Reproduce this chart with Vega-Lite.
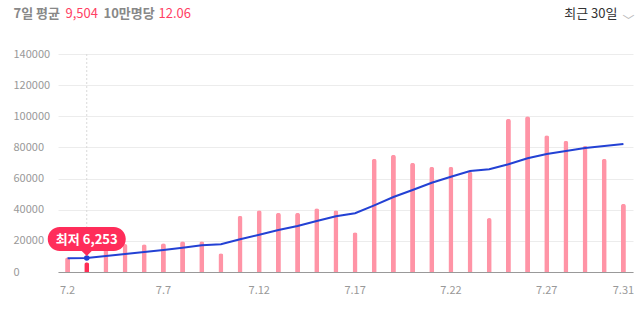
{
  "$schema": "https://vega.github.io/schema/vega-lite/v6.json",
  "width": 575,
  "height": 218,
  "autosize": "none",
  "padding": {"left": 58, "top": 54, "right": 10, "bottom": 43},
  "background": "white",
  "config": {"view": {"stroke": null}, "font": "Noto Sans CJK KR"},
  "datasets": {
    "days": [
      {"date": "7.2", "cases": 9400, "avg": 8800},
      {"date": "7.3", "cases": 6253, "avg": 8990, "note": "최저 6,253"},
      {"date": "7.4", "cases": 15000, "avg": 10280},
      {"date": "7.5", "cases": 17980, "avg": 11560},
      {"date": "7.6", "cases": 17790, "avg": 12840},
      {"date": "7.7", "cases": 18430, "avg": 14130},
      {"date": "7.8", "cases": 19710, "avg": 15610},
      {"date": "7.9", "cases": 19710, "avg": 17150},
      {"date": "7.10", "cases": 12010, "avg": 17790},
      {"date": "7.11", "cases": 36150, "avg": 21000},
      {"date": "7.12", "cases": 39620, "avg": 23950},
      {"date": "7.13", "cases": 38080, "avg": 26970},
      {"date": "7.14", "cases": 38080, "avg": 29540},
      {"date": "7.15", "cases": 40900, "avg": 32750},
      {"date": "7.16", "cases": 39620, "avg": 35770},
      {"date": "7.17", "cases": 25500, "avg": 37700},
      {"date": "7.18", "cases": 72760, "avg": 42830},
      {"date": "7.19", "cases": 75330, "avg": 48160},
      {"date": "7.20", "cases": 70190, "avg": 52660},
      {"date": "7.21", "cases": 67620, "avg": 57350},
      {"date": "7.22", "cases": 67620, "avg": 61200},
      {"date": "7.23", "cases": 64410, "avg": 64860},
      {"date": "7.24", "cases": 34680, "avg": 65950},
      {"date": "7.25", "cases": 98450, "avg": 69160},
      {"date": "7.26", "cases": 99990, "avg": 73010},
      {"date": "7.27", "cases": 87790, "avg": 75780},
      {"date": "7.28", "cases": 84320, "avg": 77710},
      {"date": "7.29", "cases": 81110, "avg": 79630},
      {"date": "7.30", "cases": 72760, "avg": 80920},
      {"date": "7.31", "cases": 43860, "avg": 82200}
    ]
  },
  "data": {"name": "days"},
  "resolve": {"axis": {"x": "independent", "y": "independent"}},
  "layer": [
    {
      "transform": [{"filter": "isValid(datum.note)"}],
      "mark": {"type": "rule", "color": "#d9d9d9", "strokeDash": [2, 2], "strokeWidth": 1},
      "encoding": {
        "x": {
          "field": "date", "type": "ordinal", "sort": null,
          "scale": {"domain": ["7.2","7.3","7.4","7.5","7.6","7.7","7.8","7.9","7.10","7.11","7.12","7.13","7.14","7.15","7.16","7.17","7.18","7.19","7.20","7.21","7.22","7.23","7.24","7.25","7.26","7.27","7.28","7.29","7.30","7.31"], "paddingInner": 0, "paddingOuter": 0},
          "axis": {"orient": "top", "labels": false, "ticks": false, "domain": false, "grid": false, "title": "최근 30일", "titleX": 559, "titleY": -37, "titleAlign": "right", "titleBaseline": "alphabetic", "titleAngle": 0, "titleColor": "#333333", "titleFontWeight": "normal", "titleFontSize": 13, "titleFont": "Noto Sans CJK KR"}
        }
      }
    },
    {
      "mark": {"type": "bar", "size": 5, "cornerRadiusTopLeft": 2.5, "cornerRadiusTopRight": 2.5},
      "encoding": {
        "x": {
          "field": "date", "type": "ordinal", "sort": null,
          "scale": {"domain": ["7.2","7.3","7.4","7.5","7.6","7.7","7.8","7.9","7.10","7.11","7.12","7.13","7.14","7.15","7.16","7.17","7.18","7.19","7.20","7.21","7.22","7.23","7.24","7.25","7.26","7.27","7.28","7.29","7.30","7.31"], "paddingInner": 0, "paddingOuter": 0},
          "axis": {"orient": "bottom", "values": ["7.2","7.7","7.12","7.17","7.22","7.27","7.31"], "labelAngle": 0, "ticks": false, "tickSize": 0, "grid": false, "domain": true, "domainColor": "#999999", "domainWidth": 1, "labelColor": "#999999", "labelFontSize": 11, "labelPadding": 12, "labelFont": "Noto Sans CJK KR", "title": null}
        },
        "y": {
          "field": "cases", "type": "quantitative",
          "scale": {"domain": [0, 140000], "nice": false},
          "axis": {"values": [0,20000,40000,60000,80000,100000,120000,140000], "format": "d", "labelAlign": "left", "labelPadding": 45, "ticks": false, "tickSize": 0, "domain": false, "grid": true, "gridColor": "#ececec", "labelColor": "#999999", "labelFontSize": 11, "labelFont": "Noto Sans CJK KR", "title": null}
        },
        "color": {"condition": {"test": "isValid(datum.note)", "value": "#ff2d55"}, "value": "#ff94a6"}
      }
    },
    {
      "mark": {"type": "line", "color": "#2341d4", "strokeWidth": 2},
      "encoding": {
        "x": {
          "field": "date", "type": "ordinal", "sort": null,
          "axis": {"orient": "top", "labels": false, "ticks": false, "domain": false, "grid": false, "title": "﹀", "titleX": 564, "titleY": -30, "titleAlign": "left", "titleBaseline": "alphabetic", "titleAngle": 0, "titleColor": "#bbbbbb", "titleFontWeight": "normal", "titleFontSize": 12, "titleFont": "Noto Sans CJK KR"}
        },
        "y": {
          "field": "avg", "type": "quantitative",
          "scale": {"domain": [0, 140000], "nice": false},
          "axis": {"orient": "left", "labels": false, "ticks": false, "domain": false, "grid": false, "title": "7일 평균", "titleX": -45, "titleY": -37, "titleAlign": "left", "titleBaseline": "alphabetic", "titleAngle": 0, "titleColor": "#888888", "titleFontWeight": "bold", "titleFontSize": 13, "titleFont": "Noto Sans CJK KR"}
        }
      }
    },
    {
      "transform": [{"filter": "isValid(datum.note)"}],
      "mark": {"type": "point", "filled": true, "opacity": 1, "color": "#2341d4", "size": 30},
      "encoding": {
        "x": {"field": "date", "type": "ordinal", "sort": null, "axis": null},
        "y": {
          "field": "avg", "type": "quantitative",
          "scale": {"domain": [0, 140000], "nice": false},
          "axis": {"orient": "left", "labels": false, "ticks": false, "domain": false, "grid": false, "title": "9,504", "titleX": 7, "titleY": -37, "titleAlign": "left", "titleBaseline": "alphabetic", "titleAngle": 0, "titleColor": "#ff3f64", "titleFontWeight": "normal", "titleFontSize": 13, "titleFont": "Noto Sans CJK KR"}
        }
      }
    },
    {
      "transform": [{"filter": "isValid(datum.note)"}],
      "mark": {"type": "point", "filled": true, "opacity": 1, "color": "#ff2d5a", "size": 4, "strokeWidth": 0, "shape": "M -27 -31 L 27 -31 A 12 12 0 0 1 27 -7 L 5 -7 L 0 -2 L -5 -7 L -27 -7 A 12 12 0 0 1 -27 -31 Z"},
      "encoding": {
        "x": {"field": "date", "type": "ordinal", "sort": null, "axis": null},
        "y": {
          "field": "avg", "type": "quantitative",
          "scale": {"domain": [0, 140000], "nice": false},
          "axis": {"orient": "left", "labels": false, "ticks": false, "domain": false, "grid": false, "title": "10만명당", "titleX": 45, "titleY": -37, "titleAlign": "left", "titleBaseline": "alphabetic", "titleAngle": 0, "titleColor": "#888888", "titleFontWeight": "bold", "titleFontSize": 13, "titleFont": "Noto Sans CJK KR"}
        }
      }
    },
    {
      "transform": [{"filter": "isValid(datum.note)"}],
      "mark": {"type": "text", "color": "white", "fontWeight": "bold", "fontSize": 13, "dy": -18, "baseline": "middle", "font": "Noto Sans CJK KR"},
      "encoding": {
        "x": {"field": "date", "type": "ordinal", "sort": null, "axis": null},
        "y": {
          "field": "avg", "type": "quantitative",
          "scale": {"domain": [0, 140000], "nice": false},
          "axis": {"orient": "left", "labels": false, "ticks": false, "domain": false, "grid": false, "title": "12.06", "titleX": 100, "titleY": -37, "titleAlign": "left", "titleBaseline": "alphabetic", "titleAngle": 0, "titleColor": "#ff3f64", "titleFontWeight": "normal", "titleFontSize": 13, "titleFont": "Noto Sans CJK KR"}
        },
        "text": {"field": "note"}
      }
    }
  ]
}
